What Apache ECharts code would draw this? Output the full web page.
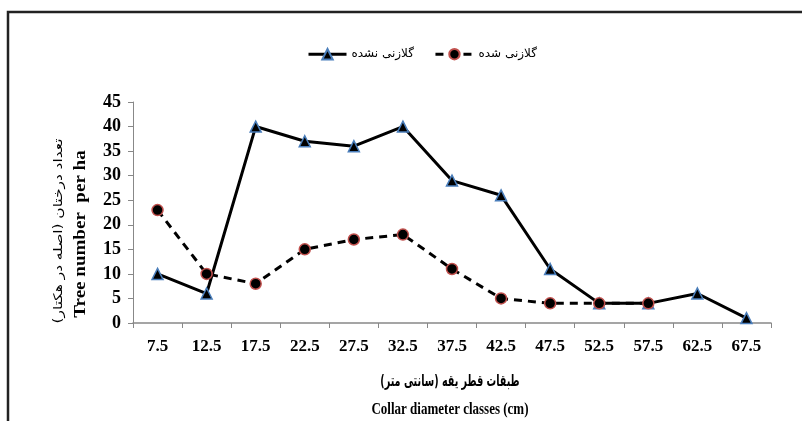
<!DOCTYPE html>
<html><head><meta charset="utf-8">
<script src="https://cdn.jsdelivr.net/npm/echarts@6/dist/echarts.min.js"></script>
<style>html,body{margin:0;padding:0;background:#fff}#c{width:802px;height:421px}</style>
</head><body><div id="c"></div>
<script>
const categories = ['7.5','12.5','17.5','22.5','27.5','32.5','37.5','42.5','47.5','52.5','57.5','62.5','67.5'];
const notGrafted = [10, 6, 40, 37, 36, 40, 29, 26, 11, 4, 4, 6, 1];
const grafted = [23, 10, 8, 15, 17, 18, 11, 5, 4, 4, 4, null, null];
const nameNotGrafted = 'گلازنی نشده';
const nameGrafted = 'گلازنی شده';
const yTicks = [0, 45, 5];

const chart = echarts.init(document.getElementById('c'), null, {renderer: 'canvas'});
const serif = '"Liberation Serif", "DejaVu Serif", serif';
const fa = '"DejaVu Sans", sans-serif';
chart.setOption({
  animation: false,
  backgroundColor: '#fff',
  grid: {left: 133, right: 31, top: 102, bottom: 98},
  legend: {
    top: 43, left: 302, itemGap: 20, itemWidth: 38, itemHeight: 13,
    lineStyle: {width: 3},
    textStyle: {fontFamily: fa, fontSize: 12, color: '#000'},
    data: [nameNotGrafted, nameGrafted]
  },
  xAxis: {
    type: 'category', data: categories, boundaryGap: true,
    axisLine: {lineStyle: {color: '#888', width: 1.5}},
    axisTick: {show: true, length: 5, lineStyle: {color: '#888'}},
    axisLabel: {margin: 15, fontFamily: serif, fontWeight: 'bold', fontSize: 17, color: '#000'}
  },
  yAxis: {
    type: 'value', min: yTicks[0], max: yTicks[1], interval: yTicks[2],
    splitLine: {show: false},
    axisLine: {show: true, lineStyle: {color: '#888', width: 1}},
    axisTick: {show: true, length: 5, lineStyle: {color: '#888'}},
    axisLabel: {margin: 12, fontFamily: serif, fontWeight: 'bold', fontSize: 18, color: '#000'}
  },
  graphic: [
    {type: 'rect', shape: {x: 8, y: 12, width: 820, height: 430}, style: {fill: 'none', stroke: '#222', lineWidth: 2.5}, z: 100},
    {type: 'text', x: 450, y: 382, scaleX: 0.6, style: {text: 'طبقات قطر یقه (سانتی متر)', font: 'bold 16px "DejaVu Sans", sans-serif', fill: '#000', textAlign: 'center', textVerticalAlign: 'middle'}},
    {type: 'text', x: 450, y: 409, scaleY: 1.35, style: {text: 'Collar diameter classes (cm)', font: 'bold 13px "Liberation Serif", serif', fill: '#000', textAlign: 'center', textVerticalAlign: 'middle'}},
    {type: 'text', x: 81, y: 234, rotation: Math.PI/2, scaleX: 1.19, style: {text: 'Tree number  per ha', font: 'bold 16px "Liberation Serif", serif', fill: '#000', textAlign: 'center', textVerticalAlign: 'middle'}},
    {type: 'text', x: 59, y: 231, rotation: Math.PI/2, scaleX: 1.28, style: {text: 'تعداد درختان (اصله در هکتار)', font: '12px "DejaVu Sans", sans-serif', fill: '#000', textAlign: 'center', textVerticalAlign: 'middle'}}
  ],
  series: [
    {
      name: nameNotGrafted, type: 'line', data: notGrafted,
      symbol: 'triangle', symbolSize: 11,
      lineStyle: {color: '#000', width: 3, type: 'solid'},
      itemStyle: {color: '#000', borderColor: '#4a7ebb', borderWidth: 1.5}
    },
    {
      name: nameGrafted, type: 'line', data: grafted,
      symbol: 'circle', symbolSize: 11,
      lineStyle: {color: '#000', width: 3, type: [8, 6]},
      itemStyle: {color: '#000', borderColor: '#c0504d', borderWidth: 1.5}
    }
  ]
});
</script></body></html>
